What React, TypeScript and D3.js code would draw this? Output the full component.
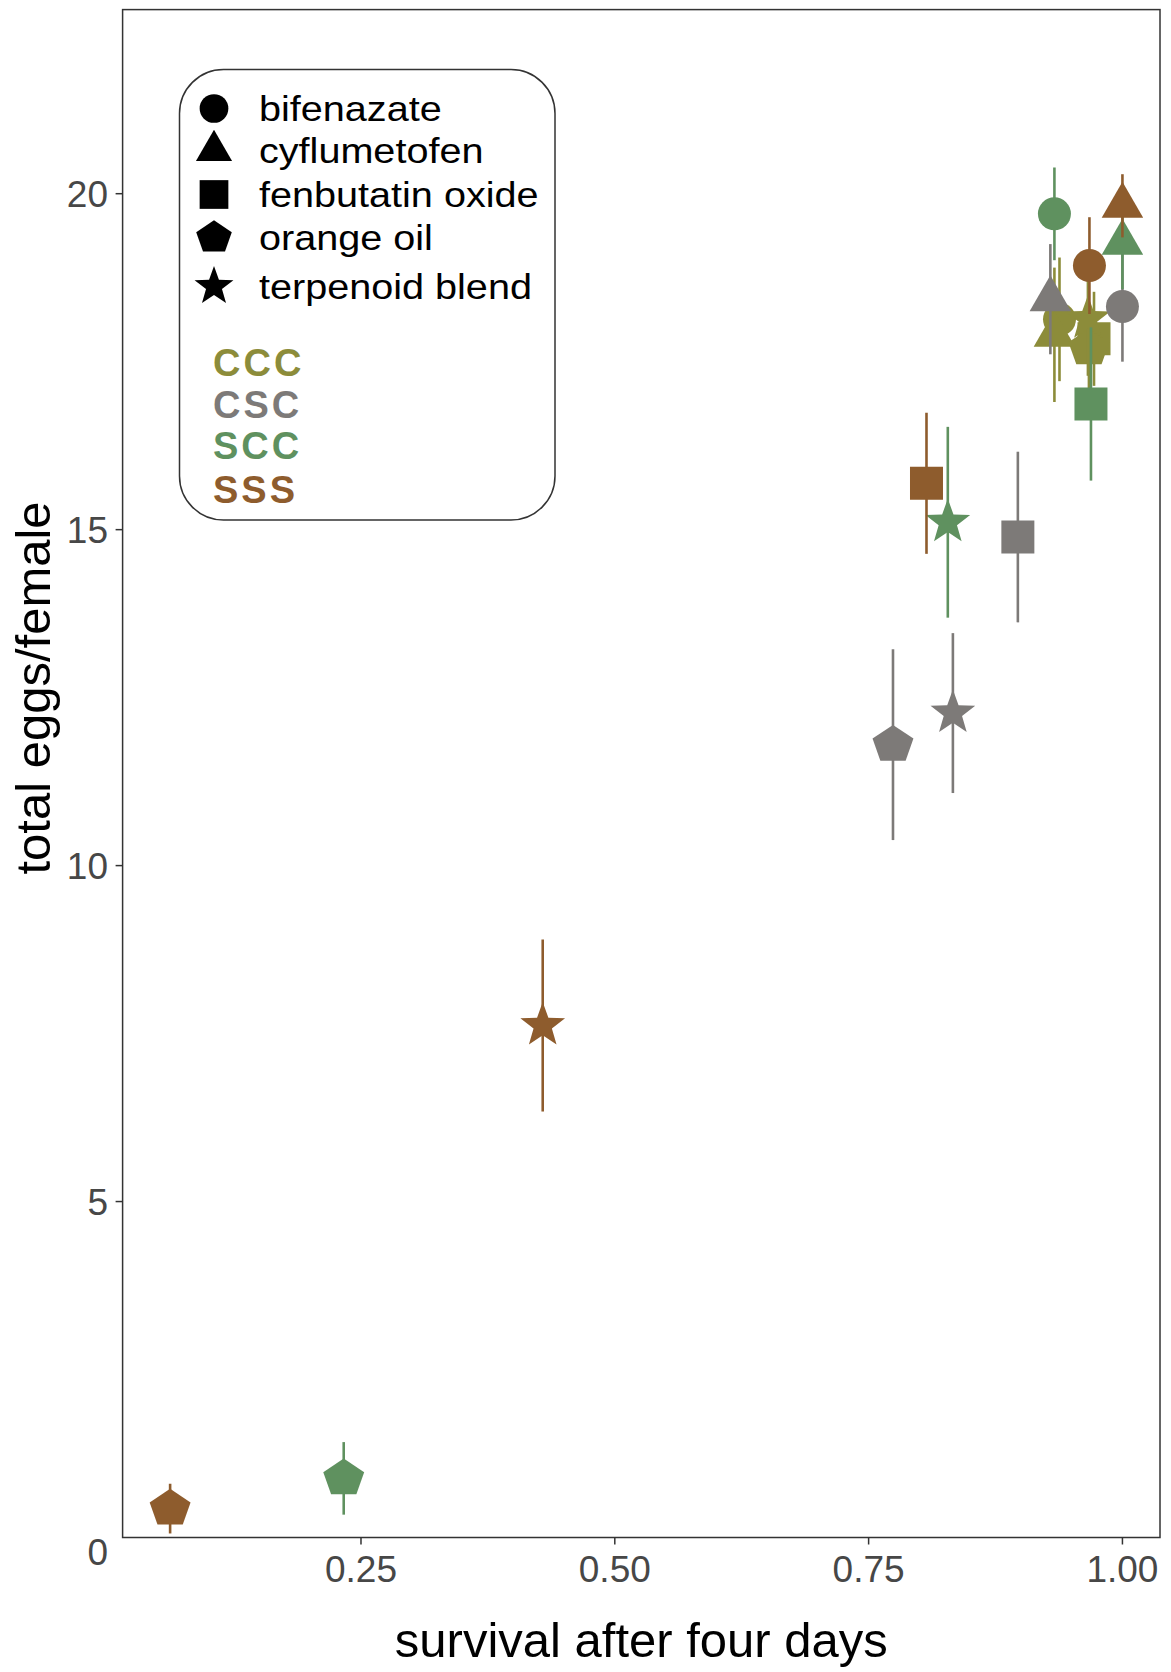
import React, { useEffect, useRef } from "react";
import * as d3 from "d3";

const populations = ["CCC", "CSC", "SCC", "SSS"];
const popColors = ["#8c8c3a", "#7d7a78", "#5f915f", "#8e5c2d"];
const treatments = ["bifenazate", "cyflumetofen", "fenbutatin oxide", "orange oil", "terpenoid blend"];
const shapes = ["circle", "triangle", "square", "pentagon", "star"];

// survival after four days (order = treatments)
const survivalCCC = [0.938, 0.933, 0.972, 0.967, 0.966];
const survivalCSC = [1.0, 0.929, 0.897, 0.774, 0.833];
const survivalSCC = [0.933, 1.0, 0.969, 0.233, 0.828];
const survivalSSS = [0.9675, 1.0, 0.807, 0.062, 0.429];

// total eggs per female
const eggsCCC = [18.13, 17.9, 17.84, 17.7, 18.14];
const eggsCSC = [18.32, 18.43, 14.89, 11.8, 12.27];
const eggsSCC = [19.7, 19.27, 16.87, 0.88, 15.11];
const eggsSSS = [18.93, 19.82, 15.69, 0.43, 7.62];

// error bar half-widths
const seCCC = [0.92, 1.0, 0.7, 0.6, 0.85];
const seCSC = [0.82, 0.82, 1.27, 1.42, 1.19];
const seSCC = [0.69, 0.69, 1.14, 0.54, 1.42];
const seSSS = [0.72, 0.47, 1.05, 0.37, 1.28];

const xTicks = [0.25, 0.5, 0.75, 1.0];
const yTicks = [0, 5, 10, 15, 20];

const survival = [survivalCCC, survivalCSC, survivalSCC, survivalSSS];
const eggs = [eggsCCC, eggsCSC, eggsSCC, eggsSSS];
const se = [seCCC, seCSC, seSCC, seSSS];

const FONT = "'Liberation Sans', Arial, sans-serif";

const shapePath = (shape, k = 1) => {
  const p = d3.path();
  if (shape === "circle") {
    const r = 16.5 * k;
    p.moveTo(r, 0);
    p.arc(0, 0, r, 0, 2 * Math.PI);
    p.closePath();
    return p.toString();
  }
  if (shape === "square") {
    const h = 16.5 * k;
    p.rect(-h, -h, 2 * h, 2 * h);
    return p.toString();
  }
  let pts = [];
  if (shape === "triangle") {
    const side = 41.5 * k;
    const h = (side * Math.sqrt(3)) / 2;
    pts = [[0, (-2 * h) / 3], [side / 2, h / 3], [-side / 2, h / 3]];
  } else if (shape === "pentagon") {
    const R = 21.5 * k;
    for (let i = 0; i < 5; i++) {
      const a = -Math.PI / 2 + (i * 2 * Math.PI) / 5;
      pts.push([R * Math.cos(a), 0.92 * R * Math.sin(a)]);
    }
  } else {
    const R = 23.5 * k;
    const r = R * 0.41;
    for (let i = 0; i < 10; i++) {
      const a = -Math.PI / 2 + (i * Math.PI) / 5;
      const rr = i % 2 === 0 ? R : r;
      pts.push([rr * Math.cos(a), rr * Math.sin(a)]);
    }
  }
  return d3.line()(pts) + "Z";
};

export default function App() {
  const ref = useRef(null);

  useEffect(() => {
    const svg = d3.select(ref.current);
    svg.selectAll("*").remove();

    const left = 122.6, right = 1160, top = 9.6, bottom = 1537.5;
    const x = d3.scaleLinear().domain([0.0152, 1.037]).range([left, right]);
    const y = d3.scaleLinear().domain([0, 22.74]).range([bottom, top]);

    svg.append("rect").attr("width", 1171).attr("height", 1672).attr("fill", "#fff");

    // points + error bars, population by population
    populations.forEach((pop, gi) => {
      const g = svg.append("g").attr("fill", popColors[gi]).attr("stroke", popColors[gi]);
      treatments.forEach((t, ti) => {
        const cx = x(survival[gi][ti]);
        const v = eggs[gi][ti];
        const e = se[gi][ti];
        g.append("line")
          .attr("x1", cx).attr("x2", cx)
          .attr("y1", y(v - e)).attr("y2", y(v + e))
          .attr("stroke-width", 2.6);
        g.append("path")
          .attr("d", shapePath(shapes[ti]))
          .attr("transform", `translate(${cx},${y(v)})`)
          .attr("stroke", "none");
      });
    });

    // panel border
    svg.append("rect")
      .attr("x", left).attr("y", top)
      .attr("width", right - left).attr("height", bottom - top)
      .attr("fill", "none").attr("stroke", "#333").attr("stroke-width", 1.5);

    // y axis
    yTicks.forEach((t) => {
      if (t !== 0) {
        svg.append("line")
          .attr("x1", left - 7).attr("x2", left)
          .attr("y1", y(t)).attr("y2", y(t))
          .attr("stroke", "#333").attr("stroke-width", 1.5);
      }
      svg.append("text")
        .attr("x", 108)
        .attr("y", y(t) + (t === 0 ? 27 : 13))
        .attr("text-anchor", "end")
        .attr("font-family", FONT).attr("font-size", 37).attr("fill", "#474747")
        .text(t);
    });

    // x axis
    xTicks.forEach((t) => {
      svg.append("line")
        .attr("x1", x(t)).attr("x2", x(t))
        .attr("y1", bottom).attr("y2", bottom + 7)
        .attr("stroke", "#333").attr("stroke-width", 1.5);
      svg.append("text")
        .attr("x", x(t)).attr("y", 1581.5)
        .attr("text-anchor", "middle")
        .attr("font-family", FONT).attr("font-size", 37).attr("fill", "#474747")
        .text(d3.format(".2f")(t));
    });

    // axis titles
    svg.append("text")
      .attr("x", (left + right) / 2).attr("y", 1657)
      .attr("text-anchor", "middle")
      .attr("font-family", FONT).attr("font-size", 49).attr("fill", "#000")
      .text("survival after four days");
    svg.append("text")
      .attr("transform", "translate(50,688) rotate(-90)")
      .attr("text-anchor", "middle")
      .attr("font-family", FONT).attr("font-size", 49).attr("fill", "#000")
      .text("total eggs/female");

    // legend
    const lg = svg.append("g");
    lg.append("rect")
      .attr("x", 179.5).attr("y", 69.5).attr("width", 375.5).attr("height", 450.5)
      .attr("rx", 44).attr("fill", "#fff").attr("stroke", "#333").attr("stroke-width", 1.5);

    const rowCenters = [108.5, 150.5, 194.5, 237.5, 286.5];
    treatments.forEach((t, i) => {
      lg.append("path")
        .attr("d", shapePath(shapes[i], 0.87))
        .attr("transform", `translate(214,${rowCenters[i]})`)
        .attr("fill", "#000");
      lg.append("text")
        .attr("transform", `translate(259,${rowCenters[i] + 12}) scale(1.1,1)`)
        .attr("font-family", FONT).attr("font-size", 36).attr("fill", "#000")
        .text(t);
    });

    const popBaselines = [376, 418, 459, 503];
    populations.forEach((p, i) => {
      lg.append("text")
        .attr("x", 213).attr("y", popBaselines[i])
        .attr("font-family", FONT).attr("font-size", 38).attr("font-weight", "bold")
        .attr("letter-spacing", 3)
        .attr("fill", popColors[i])
        .text(p);
    });
  }, []);

  return (
    <svg
      ref={ref}
      width={1171}
      height={1672}
      style={{ position: "absolute", top: 0, left: 0, display: "block" }}
    />
  );
}
